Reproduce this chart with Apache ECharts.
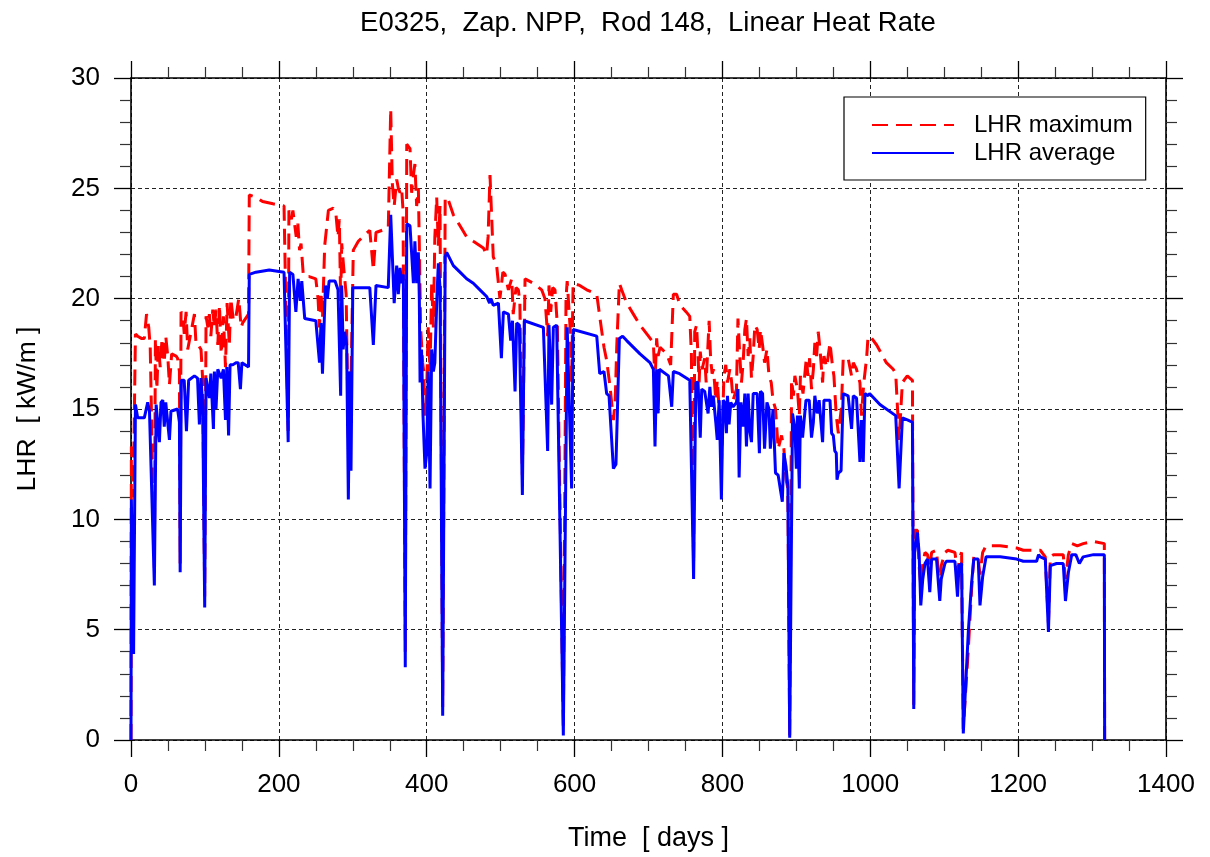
<!DOCTYPE html>
<html>
<head>
<meta charset="utf-8">
<title>E0325, Zap. NPP, Rod 148, Linear Heat Rate</title>
<script src="https://cdn.jsdelivr.net/npm/echarts@6/dist/echarts.min.js"></script>
<style>
  html, body { margin: 0; padding: 0; background: #fff; }
  #chart { width: 1210px; height: 857px; }
</style>
</head>
<body>
<div id="chart"></div>
<script>
// Linear heat rate history of rod 148: [time in days, LHR in kW/m]
const LHR_MAX = [
  [0,0],[0.5,13.3],[3,11.0],[6,18.4],[9,18.3],[14,18.2],[18,18.2],[21,19.3],[24,18.7],[26,17.8],[31.6,7.8],[33,18.2],[35,15.9],[37,17.9],[39.5,16.9],[42,18.2],[45,17.1],[47,18.3],[49.7,17.4],[52,16.1],[55,17.5],[61,17.4],[63,17.3],[65.5,16.7],[66.5,8.0],[67.7,19.4],[70,19.3],[72,18.4],[74.5,19.4],[76.7,17.7],[85.8,19.3],[88,17.9],[91,17.9],[94.7,17.7],[97,16.3],[99.7,6.5],
  [101.5,19.2],[104,18.7],[106,19.3],[108,18.3],[110.6,19.5],[112.8,18.7],[115,19.5],[117.4,17.9],[119.7,19.7],[122,17.5],[125,19.2],[127.8,16.9],[130,19.8],[133,17.9],[135,20.0],[138.5,19.0],[142,19.2],[145.8,20.0],[149,18.7],[151,18.9],[159,19.3],[160,24.7],[169,24.6],[178,24.4],[192,24.3],[207,24.2],[212.6,14.0],[213.6,24.0],[217,23.6],[219,24.0],[223.5,22.8],[225.7,23.4],[228,22.2],[230,22.5],[233,21.1],[235,21.0],[241,21.0],[250,20.9],[253,20.0],[255,18.7],[257,20.3],[259,19.1],[262,22.4],[267,24.0],[273.7,24.1],[277,23.9],[280,22.8],[281.8,23.6],[283.6,19.9],[285,22.5],[288,21.3],[291,20.2],[294,13.7],[296,16.7],[297.6,16.3],
  [300.7,22.2],[307.5,22.6],[316.5,22.9],[323,23.1],[327.8,21.3],[331.4,23.0],[348,23.2],[351.3,28.6],[353.5,25.2],[356,24.2],[359.4,25.4],[361.6,25.0],[364,24.8],[366,25.0],[368,24.0],[371,4.0],[373,27.0],[377.4,26.8],[379.6,24.8],[382,25.6],[384,26.1],[386.4,24.2],[388.7,25.0],[390,22.4],[391.8,18.7],[394.5,17.1],[396,16.7],[397.7,14.7],[400,15.9],[402,18.7],[404.5,16.7],[406.7,20.7],[409,18.7],[411,22.8],[413.5,24.6],[415.7,22.4],[418,24.2],[421.6,1.5],[425,24.6],[429,24.5],[436,23.8],[445,23.3],[454,22.8],[463,22.6],[476.6,22.3],[481,22.0],[483,22.8],[485.6,25.6],[487.5,24.0],[490,21.9],[494.6,21.5],[499,20.0],
  [503,21.2],[506,21.1],[510.5,20.4],[515,20.9],[517,19.3],[520.8,20.5],[524,20.4],[526,19.8],[529.4,12.0],[533,20.9],[544,20.7],[555.5,20.4],[560,20.0],[563.6,18.3],[565.4,20.6],[567.7,19.4],[570.4,20.5],[573.5,20.4],[576.7,18.8],[584.8,0.5],[588.4,20.0],[590,20.8],[593.8,18.8],[596,16.2],[598,20.7],[607,20.6],[616.4,20.4],[630,20.2],[634,19.2],[639.8,17.8],[643.4,17.2],[648,16.0],[652.5,14.5],[655,15.4],[657,17.8],[660.6,20.7],[663.7,20.4],[670.5,19.8],[679.5,19.3],[688.5,18.8],
  [700,18.3],[706.6,18.0],[708.8,16.2],[711,18.2],[713,17.4],[715.6,17.8],[724.6,17.5],[730,17.0],[733.6,20.2],[738,20.2],[742.6,19.7],[751,19.4],[755.8,19.2],[758,17.5],[761,8.0],[762.5,18.5],[765,18.8],[767,17.4],[768.5,16.2],[770,17.6],[772.5,16.8],[776,17.3],[778,16.2],[782,19.0],[784,17.3],[786,16.6],[788,16.8],[791,15.4],[793,16.3],[795.6,15.0],[798.6,12.5],
  [802,16.5],[804.5,17.0],[806.8,16.2],[810,16.8],[812.2,16.3],[814.4,15.4],[819,15.9],[821,19.1],[823.5,17.4],[825.7,16.2],[828,17.1],[830.3,18.6],[832.5,19.1],[834.8,17.4],[837,18.2],[839.3,16.4],[841.6,17.4],[843.9,18.8],[847,18.6],[849.7,17.7],[851.5,18.6],[854.3,17.9],[857,17.1],[860.2,17.7],[863,16.5],[866,16.2],[868.4,15.4],[871.8,15.0],[875.4,13.2],[880,13.8],[883.1,13.2],[886,11.8],[888.5,11.4],[891,0.2],[893.5,16.3],[896,15.6],[898,16.5],
  [901.4,15.9],[904,14.7],[905.5,16.5],[909,15.7],[913.5,17.3],[915.7,16.5],[918,17.3],[920.5,15.9],[923,16.8],[925,18.0],[927.4,17.4],[929.6,18.5],[932,17.7],[935.5,16.2],[937.3,17.4],[941,16.9],[945.5,18.0],[949,16.9],[950.8,16.5],[954,14.7],[956.8,13.9],[960.8,15.0],[963.4,17.3],[970,17.3],[974.7,16.5],[977,17.1],[981.4,16.8],[986,16.2],[988,14.7],[991.3,16.2],[995,17.3],[997,18.3],
  [1002,18.2],[1008.6,17.9],[1021.7,17.1],[1031,16.8],[1034.4,16.6],[1039,13.6],[1043.4,16.2],[1050,16.5],[1057,16.3],[1058.8,1.6],[1060,9.5],[1063.8,9.5],[1066,7.9],[1068.3,7.0],[1071,8.0],[1074,8.5],[1077.4,8.4],[1080.5,7.8],[1083,8.5],[1089.6,8.6],[1094,6.8],[1096,7.9],
  [1101,8.5],[1105,8.6],[1114.5,8.5],[1118,7.6],[1121,8.3],[1123.5,8.5],[1125.8,0.5],[1132.6,4.1],[1137,6.8],[1140,8.3],[1146,8.2],[1148.4,7.5],[1152,8.5],[1156.6,8.8],[1175.6,8.8],[1198,8.7],
  [1207,8.6],[1225,8.6],[1230,8.6],[1236.7,8.3],[1241,5.3],[1243.5,8.3],[1248,8.4],[1261,8.4],[1264,7.3],[1268,8.4],[1272.5,8.9],[1280,8.8],[1288,8.9],[1302,9.0],[1316.6,8.9],[1317,0]
];

const LHR_AVG = [
  [0,0],[0.5,10.9],[3.5,3.9],[6,15.2],[9,14.6],[18,14.6],[22.6,15.3],[25,14.9],[31.6,7.0],[34,15.2],[38.4,13.5],[40.6,15.3],[43,15.4],[45,14.2],[47,15.3],[49.7,15.3],[52,13.6],[54,14.9],[63,15.0],[65.5,14.4],[66.5,7.6],[68,16.3],[72,16.3],[75,14.0],[78,16.3],[85.8,16.5],[90,16.4],[92.5,14.3],[94.7,16.4],[97,15.1],[99.7,6.0],
  [101.5,16.4],[106,15.5],[108,16.6],[111.5,14.1],[112.8,16.7],[115,15.0],[117.4,16.8],[119.7,16.8],[122,16.4],[125,16.8],[127.8,14.5],[129.6,16.9],[132,13.8],[134,17.0],[137.6,17.0],[142,17.1],[145,17.1],[148,15.9],[150,17.1],[159,16.9],[160,21.1],[169,21.2],[187,21.3],[207,21.2],[212.6,13.5],[214.6,21.2],[219,21.1],[223,19.4],[226,20.9],[229,19.9],[231,20.8],[235,19.1],[250,19.0],[255,17.1],[257,18.9],[259,16.6],[263,20.6],[265.6,20.0],[268,20.8],[276,20.8],[280,20.4],[283.6,15.6],[285,20.6],[287,17.7],[289,18.5],[291.7,17.9],[294,10.9],[296,16.7],[297.6,12.2],
  [300,20.5],[323,20.5],[327.8,17.9],[331.4,20.6],[348,20.5],[351.3,23.8],[356,19.8],[359.4,21.5],[361.6,20.2],[364,21.4],[366,20.7],[368.4,21.1],[371,3.3],[373,23.4],[377.4,23.3],[382,20.7],[384,22.6],[386.4,20.7],[388.7,22.1],[390,20.0],[391,16.2],[393,17.7],[395,14.7],[397.7,12.3],[400,13.0],[402,16.7],[404.5,11.4],[406.7,17.7],[409,16.7],[411,17.1],[413.5,19.8],[415.7,21.6],[418,20.5],[421.6,1.1],[425,21.9],[427,22.1],[436,21.5],[445,21.2],[454,20.9],[463,20.7],[472,20.4],[481,20.1],[485,19.8],[487,20.0],[490,19.7],[497,19.8],
  [501,17.3],[503.7,19.4],[510.5,19.3],[513.6,18.1],[516,19.0],[519.5,15.8],[521.7,18.9],[525.3,18.8],[529.4,11.1],[532,19.0],[557.8,18.7],[563.6,13.1],[565.4,18.8],[569,15.2],[571.3,18.7],[575.8,18.8],[584.8,0.2],[590,18.7],[596,11.4],[598,18.6],[630,18.3],[634,16.6],[639.8,16.7],[643.4,15.7],[646.6,15.6],[652.5,12.3],[656,12.5],[660.6,18.2],[665,18.3],[670.5,18.1],[688.5,17.5],
  [702,17.1],[706.6,16.8],[708.8,13.3],[711,16.8],[713,14.8],[714.7,16.8],[727,16.5],[731.4,15.1],[733.6,16.7],[742,16.6],[755.8,16.3],[761,7.3],[764,16.2],[767,16.2],[770,13.7],[772,15.9],[776,15.8],[780.6,14.8],[783,16.0],[785,15.1],[787.6,15.6],[791,14.4],[793,13.6],[795.6,15.4],[798.6,10.9],
  [801,15.4],[803,15.3],[805.4,13.9],[806.8,15.6],[809,14.3],[811.3,15.3],[814.4,15.1],[819,15.3],[821,15.9],[822.6,11.9],[825,15.3],[828,14.2],[830.3,15.7],[832.5,13.3],[834.8,15.7],[837,14.0],[839.3,13.5],[841.6,15.7],[847,15.7],[850,13.0],[851.5,15.8],[854.3,15.7],[857,13.2],[860.2,15.3],[863,15.0],[864.8,13.2],[868.4,15.0],[871.8,12.1],[875.4,12.0],[877.6,12.0],[881,10.8],[883.1,13.0],[886,12.4],[888.5,11.5],[891,0.1],[894.8,14.8],[898,14.1],
  [900,12.3],[901.4,14.7],[904,11.4],[905.5,14.7],[908.4,13.7],[913,15.4],[917.4,15.4],[920.5,13.7],[923,14.4],[925,15.6],[928.2,14.8],[930.8,15.4],[935.5,13.5],[937.3,15.4],[941,15.4],[945.5,15.4],[947.7,13.9],[950,13.8],[952,13.1],[954,13.0],[955,11.8],[956.8,12.1],[960.5,12.2],[963.4,15.7],[970,15.6],[974.7,14.1],[977,15.6],[981.4,15.5],[986,12.6],[988,14.5],[990.5,12.6],[992.8,15.7],[997,15.6],[999,15.7],
  [1013,15.2],[1034.4,14.7],[1039,11.4],[1043.4,14.6],[1051,14.5],[1057,14.4],[1058.8,1.4],[1060,8.5],[1063.8,9.4],[1066,8.5],[1068.3,6.1],[1071,7.3],[1074,8.0],[1077.4,8.2],[1080.5,6.7],[1083,8.2],[1089.6,8.2],[1094,6.3],[1096,7.3],
  [1101,8.0],[1103,8.1],[1114.5,8.1],[1118,6.5],[1120,7.9],[1123.5,8.0],[1125.8,0.3],[1132.6,4.9],[1137,7.1],[1140,8.2],[1146,8.2],[1148.4,6.1],[1152,7.4],[1156.6,8.3],[1175.6,8.3],[1198,8.2],
  [1207,8.1],[1225,8.1],[1227.6,8.4],[1230,8.3],[1236.7,8.2],[1241,4.9],[1243.5,7.9],[1252,8.0],[1261,8.0],[1264,6.3],[1268,7.6],[1272.5,8.4],[1278,8.4],[1282.8,8.0],[1288,8.3],[1302,8.4],[1316.6,8.4],[1317,0]
];

const TITLE = 'E0325,  Zap. NPP,  Rod 148,  Linear Heat Rate';
const X_NAME = 'Time  [ days ]';
const Y_NAME = 'LHR  [ kW/m ]';
const SERIES_NAMES = ['LHR maximum', 'LHR average'];
const X_RANGE = { min: 0, max: 1400, interval: 200 };
const Y_RANGE = { min: 0, max: 30, interval: 5 };

const FONT = '"Liberation Sans", Arial, sans-serif';

const chart = echarts.init(document.getElementById('chart'), null, { renderer: 'canvas' });

const frameLine = { show: true, onZero: false, lineStyle: { color: '#000', width: 1.6 } };
const majorTick = { show: true, inside: false, length: 17, lineStyle: { color: '#000', width: 1.3 } };
const minorTickStyle = { lineStyle: { color: '#333', width: 1.2 } };
const gridLine = { show: true, lineStyle: { color: '#222', width: 1, type: [4, 3] } };
const plainNumber = (v) => String(v);

chart.setOption({
  animation: false,
  backgroundColor: '#fff',
  title: {
    text: TITLE,
    left: 643,
    textAlign: 'center',
    top: 4,
    textStyle: { fontFamily: FONT, fontSize: 27.5, fontWeight: 'normal', color: '#000' }
  },
  legend: {
    orient: 'vertical',
    left: 844,
    top: 97,
    padding: [16, 13, 15, 27],
    itemWidth: 82,
    itemHeight: 14,
    itemGap: 4,
    backgroundColor: '#fff',
    borderColor: '#000',
    borderWidth: 1.2,
    borderRadius: 0,
    itemStyle: { opacity: 0 },
    data: SERIES_NAMES,
    textStyle: { fontFamily: FONT, fontSize: 24, color: '#000', padding: [0, 0, 0, 15] }
  },
  grid: { left: 131, right: 44, top: 78, bottom: 116, containLabel: false },
  xAxis: [
    {
      type: 'value',
      position: 'bottom',
      min: X_RANGE.min, max: X_RANGE.max, interval: X_RANGE.interval,
      name: X_NAME,
      nameLocation: 'middle',
      nameGap: 85,
      nameTextStyle: { fontFamily: FONT, fontSize: 27, color: '#000' },
      axisLine: frameLine,
      axisTick: majorTick,
      minorTick: Object.assign({ show: true, splitNumber: 4, length: 11 }, minorTickStyle),
      axisLabel: { fontFamily: FONT, fontSize: 26, color: '#000', margin: 32, formatter: plainNumber },
      splitLine: gridLine
    },
    {
      type: 'value',
      position: 'top',
      min: X_RANGE.min, max: X_RANGE.max, interval: X_RANGE.interval,
      axisLine: frameLine,
      axisTick: majorTick,
      minorTick: Object.assign({ show: true, splitNumber: 4, length: 11 }, minorTickStyle),
      axisLabel: { show: false },
      splitLine: { show: false }
    }
  ],
  yAxis: [
    {
      type: 'value',
      position: 'left',
      min: Y_RANGE.min, max: Y_RANGE.max, interval: Y_RANGE.interval,
      name: Y_NAME,
      nameLocation: 'middle',
      nameGap: 90,
      nameRotate: 90,
      nameTextStyle: { fontFamily: FONT, fontSize: 26.5, color: '#000' },
      axisLine: frameLine,
      axisTick: majorTick,
      minorTick: Object.assign({ show: true, splitNumber: 5, length: 11 }, minorTickStyle),
      axisLabel: { fontFamily: FONT, fontSize: 26, color: '#000', margin: 31, formatter: plainNumber },
      splitLine: gridLine
    },
    {
      type: 'value',
      position: 'right',
      min: Y_RANGE.min, max: Y_RANGE.max, interval: Y_RANGE.interval,
      axisLine: frameLine,
      axisTick: majorTick,
      minorTick: Object.assign({ show: true, splitNumber: 5, length: 11 }, minorTickStyle),
      axisLabel: { show: false },
      splitLine: { show: false }
    }
  ],
  series: [
    {
      name: SERIES_NAMES[0],
      type: 'line',
      xAxisIndex: 0,
      yAxisIndex: 0,
      data: LHR_MAX,
      symbol: 'none',
      showSymbol: false,
      lineStyle: { color: '#ff0000', width: 3, type: [16, 8] },
      itemStyle: { color: '#ff0000' },
      z: 3
    },
    {
      name: SERIES_NAMES[1],
      type: 'line',
      xAxisIndex: 0,
      yAxisIndex: 0,
      data: LHR_AVG,
      symbol: 'none',
      showSymbol: false,
      lineStyle: { color: '#0000ff', width: 3 },
      itemStyle: { color: '#0000ff' },
      z: 4
    }
  ]
});
</script>
</body>
</html>
